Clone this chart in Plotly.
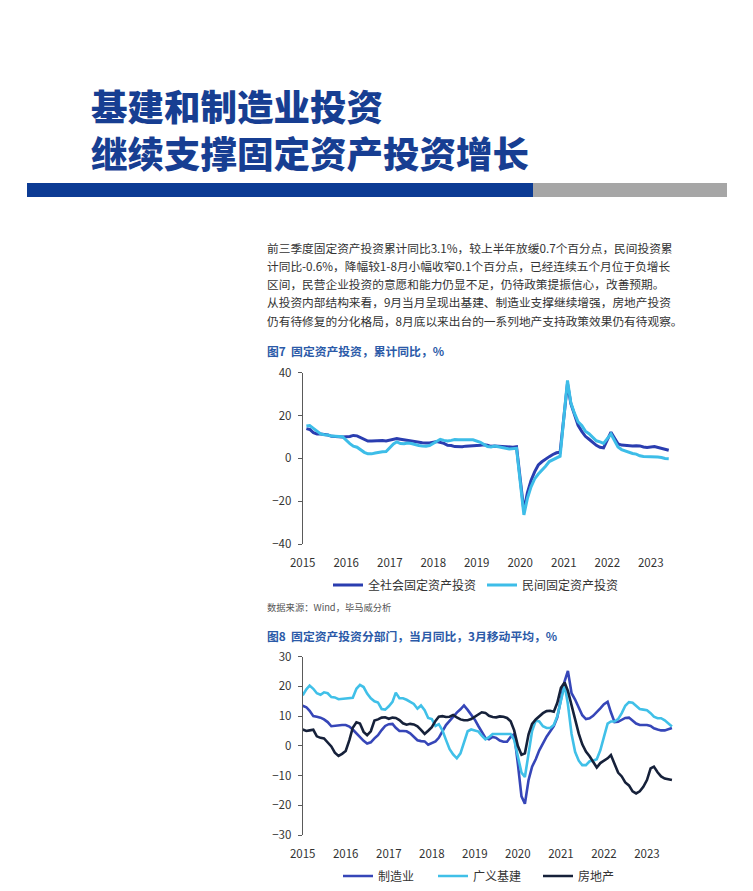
import plotly.graph_objects as go
import pandas as pd

# ---------------- data ----------------
years = ["2015", "2016", "2017", "2018", "2019", "2020", "2021", "2022", "2023"]

# Fig 7: cumulative YoY (Feb..Dec each year), %
fai_total = [13.9, 13.5, 12.0, 11.4, 11.4, 11.2, 10.9, 10.3, 10.2, 10.2, 10.0,
             10.2, 10.7, 10.5, 9.6, 9.0, 8.1, 8.1, 8.2, 8.3, 8.3, 8.1,
             8.9, 9.2, 8.9, 8.6, 8.6, 8.3, 7.8, 7.5, 7.3, 7.2, 7.2,
             7.9, 7.5, 7.0, 6.1, 6.0, 5.5, 5.3, 5.4, 5.7, 5.9, 5.9,
             6.1, 6.3, 6.1, 5.6, 5.8, 5.7, 5.5, 5.4, 5.2, 5.2, 5.4,
             -24.5, -16.1, -10.3, -6.3, -3.1, -1.6, -0.3, 0.8, 1.8, 2.6, 2.9,
             35.0, 25.6, 19.9, 15.4, 12.6, 10.3, 8.9, 7.3, 6.1, 5.2, 4.9,
             12.2, 9.3, 6.8, 6.2, 6.1, 5.7, 5.8, 5.9, 5.8, 5.3, 5.1,
             5.5, 5.1, 4.7, 4.0, 3.8]
fai_private = [15.1, 15.3, 14.0, 12.9, 11.4, 11.0, 10.9, 10.4, 10.2, 10.1, 10.1,
               6.9, 5.7, 5.2, 3.9, 2.8, 2.1, 2.1, 2.5, 2.9, 3.1, 3.2,
               6.7, 7.7, 6.9, 6.8, 7.2, 6.9, 6.4, 6.0, 5.8, 5.7, 6.0,
               8.1, 8.9, 8.4, 8.1, 8.4, 8.8, 8.7, 8.7, 8.7, 8.7, 8.7,
               7.5, 6.4, 5.5, 5.3, 5.7, 5.4, 4.9, 4.7, 4.4, 4.5, 4.7,
               -26.4, -18.8, -13.3, -9.6, -7.3, -5.7, -3.7, -1.5, -0.7, 0.2, 1.0,
               36.4, 26.0, 21.0, 17.0, 15.4, 12.7, 11.5, 9.8, 8.2, 7.7, 7.0,
               11.4, 8.4, 5.3, 4.1, 3.5, 2.7, 2.3, 2.0, 1.2, 0.9, 0.9,
               0.8, 0.6, 0.4, -0.1, -0.2]

# Fig 8: monthly YoY, 3-month moving average (Jan 2015 ..), %
manufacturing = [13.5, 13, 11.8, 10, 9.8, 9.5, 8.9, 8, 6.6, 6.8, 7, 7,
                 7, 6.5, 5.5, 4.2, 2.8, 1.7, 0.8, 1.2, 2.5, 3.6, 5.3, 6.7,
                 7.3, 7.4, 6.1, 5, 5, 4.9, 4.2, 2.9, 1.9, 1.6, 1.5, 0.4,
                 0.9, 1.5, 2.7, 4.9, 7, 8.4, 9.9, 11.2, 12.3, 13.6, 12.1, 10.6,
                 8.8, 6.6, 4.5, 2.7, 2.2, 3, 2.7, 1.8, 1.4, 1.4, 3, 4,
                 -6, -17, -19.5, -11.5, -7, -4.5, -1.5, 1, 3.1, 4.8, 6.6, 9.6,
                 16, 21.7, 25.2, 17.7, 15.6, 12.7, 10.3, 9, 9.3, 10.1, 11.2, 12.6,
                 14, 14.8, 11.3, 8, 8.1, 8.8, 9.4, 9.5, 8.6, 7.5, 7, 7,
                 7, 6.7, 5.9, 5.5, 5.2, 5.2, 5.7, 6]
infrastructure = [17, 19, 20.3, 19.2, 17.7, 17.2, 18, 17.7, 16.4, 16.3, 15.7, 15.8,
                  16, 16, 16.2, 19.2, 20.5, 19.8, 17.6, 16, 15, 14.6, 12.4, 12.2,
                  13.3, 14.8, 17.9, 16, 16, 15.5, 14.8, 14.1, 12.5, 13.6, 12, 9.4,
                  9, 6.7, 7.3, 5.2, 2, -1.1, -2.9, -4.2, -2.5, 1.5, 4.9, 5.5,
                  5.2, 4.8, 3.4, 2.2, 2.9, 4, 4, 4, 4, 4, 4, 2,
                  -3, -9, -10.5, -2, 5, 8.5, 8.2, 6.6, 6, 6, 7, 10,
                  15.5, 20.5, 14, 4, -2, -5, -6.5, -6.5, -5.2, -5, -4.5, -1.5,
                  3, 7.5, 8.2, 8.2, 9, 11, 13.5, 14.7, 14.5, 13.3, 12.4, 12.2,
                  12, 11, 9.8, 9.3, 9.3, 8.6, 7.5, 6.5]
real_estate = [5.5, 5, 5.2, 5.4, 3.2, 2.7, 2.5, 1.3, -0.2, -2.3, -3.4, -2.7,
               -1.7, 1.9, 6.1, 7.9, 7.5, 4.7, 3.6, 4.9, 8.5, 8.9, 9.5, 9.6,
               9.1, 9.5, 9.4, 8.7, 7.6, 7.1, 7.4, 7.2, 6.6, 5.4, 4, 5.1,
               6.3, 8.4, 9.8, 10, 9.7, 9.8, 10.4, 9.6, 8.9, 8.6, 8.6, 9,
               9.9, 10.6, 11.3, 11.1, 10.1, 9.7, 9.6, 9.9, 9.8, 9.4, 8.3, 5.2,
               0, -3, -2.5, 3.9, 7.4, 8.9, 10, 11, 11.7, 11.8, 11.5, 14.5,
               19.5, 21.3, 18.5, 13.5, 8.5, 4.1, 0.5, -1.9, -3.5, -5.2, -7.3, -5.8,
               -5.1, -4.2, -3.1, -6.1, -9, -10.3, -12.3, -13.3, -15.3, -16, -15.3, -13.8,
               -11.5, -7.6, -7, -8.9, -10.3, -11, -11.3, -11.5]

cum_dates = [f"{y}-{m:02d}-01" for y in range(2015, 2024) for m in range(2, 13)][:len(fai_total)]
mon_dates = pd.date_range("2015-01-01", periods=len(manufacturing), freq="MS")
year_ticks = [f"{y}-01-01" for y in years]

title_lines = ["基建和制造业投资", "继续支撑固定资产投资增长"]
para_lines = [
    "前三季度固定资产投资累计同比3.1%，较上半年放缓0.7个百分点，民间投资累",
    "计同比-0.6%，降幅较1-8月小幅收窄0.1个百分点，已经连续五个月位于负增长",
    "区间，民营企业投资的意愿和能力仍显不足，仍待政策提振信心，改善预期。",
    "从投资内部结构来看，9月当月呈现出基建、制造业支撑继续增强，房地产投资",
    "仍有待修复的分化格局，8月底以来出台的一系列地产支持政策效果仍有待观察。",
]

# ---------------- style ----------------
PAGE_OFF = 8           # the page body margin
W, H = 745, 883        # figure size so that it fills the 753x891 window
FONT = "Noto Sans CJK SC"
C_TOTAL = "#2a3db0"
C_PRIV = "#3dbde8"
C_MFG = "#3646b8"
C_INFRA = "#40c0e8"
C_RE = "#16213a"
AX = "#5a5a5a"


def X(p):
    return (p - PAGE_OFF) / W


def Y(p):
    return 1 - (p - PAGE_OFF) / H


fig = go.Figure()
fig.add_trace(go.Scatter(x=cum_dates, y=fai_total, mode="lines", name="全社会固定资产投资",
                         line=dict(color=C_TOTAL, width=3), xaxis="x", yaxis="y", legend="legend"))
fig.add_trace(go.Scatter(x=cum_dates, y=fai_private, mode="lines", name="民间固定资产投资",
                         line=dict(color=C_PRIV, width=3), xaxis="x", yaxis="y", legend="legend2"))
fig.add_trace(go.Scatter(x=mon_dates, y=manufacturing, mode="lines", name="制造业",
                         line=dict(color=C_MFG, width=2.6), xaxis="x2", yaxis="y2", legend="legend3"))
fig.add_trace(go.Scatter(x=mon_dates, y=infrastructure, mode="lines", name="广义基建",
                         line=dict(color=C_INFRA, width=2.6), xaxis="x2", yaxis="y2", legend="legend4"))
fig.add_trace(go.Scatter(x=mon_dates, y=real_estate, mode="lines", name="房地产",
                         line=dict(color=C_RE, width=2.6), xaxis="x2", yaxis="y2", legend="legend5"))

d1x = [X(302.7), X(671)]
d1y = [Y(544), Y(372.7)]
d2x = [X(302.7), X(673)]
d2y = [Y(835), Y(656.7)]
r1 = ["2015-01-01", "2023-06-20"]
r2 = ["2015-01-01", "2023-08-10"]

tickfont = dict(family=FONT, size=11.5, color="#333333")

label_axis = dict(showline=False, showgrid=False, zeroline=False, ticks="outside", ticklen=8,
                  tickcolor="rgba(0,0,0,0)", tickvals=year_ticks, ticktext=years, tickfont=tickfont)
zero_axis = dict(anchor="free", showline=True, linecolor="#8a8a8a", linewidth=1, showgrid=False,
                 zeroline=False, ticks="outside", ticklen=3, tickcolor="#8a8a8a",
                 tickvals=year_ticks, showticklabels=False)
y_axis = dict(showline=True, linecolor=AX, linewidth=1, showgrid=False, zeroline=False,
              ticks="outside", ticklen=4, tickcolor=AX, tickfont=tickfont, ticklabelstandoff=4)

fig.update_layout(
    width=W, height=H, margin=dict(l=0, r=0, t=0, b=0, autoexpand=False),
    paper_bgcolor="white", plot_bgcolor="white", showlegend=True,
    font=dict(family=FONT, color="#333333"),
    xaxis=dict(domain=d1x, anchor="y", range=r1, **label_axis),
    yaxis=dict(domain=d1y, anchor="x", range=[-40, 40], tickvals=[-40, -20, 0, 20, 40], **y_axis),
    xaxis3=dict(domain=d1x, overlaying="x", position=(d1y[0] + d1y[1]) / 2, range=r1, **zero_axis),
    xaxis2=dict(domain=d2x, anchor="y2", range=r2, **label_axis),
    yaxis2=dict(domain=d2y, anchor="x2", range=[-30, 30], tickvals=[-30, -20, -10, 0, 10, 20, 30], **y_axis),
    xaxis4=dict(domain=d2x, overlaying="x2", position=(d2y[0] + d2y[1]) / 2, range=r2, **zero_axis),
)

leg_common = dict(orientation="h", xanchor="left", yanchor="middle", bgcolor="rgba(0,0,0,0)",
                  borderwidth=0, font=dict(family=FONT, size=12, color="#333333"))
fig.update_layout(
    legend=dict(x=X(328), y=Y(585), **leg_common),
    legend2=dict(x=X(482), y=Y(585), **leg_common),
    legend3=dict(x=X(338), y=Y(876), **leg_common),
    legend4=dict(x=X(433), y=Y(876), **leg_common),
    legend5=dict(x=X(538), y=Y(876), **leg_common),
)

ann = []
ann.append(dict(text="<br>".join(title_lines), x=X(89), y=Y(129.5), xref="paper", yref="paper",
                showarrow=False, xanchor="left", yanchor="middle", align="left",
                font=dict(family=FONT, size=36.5, weight=900, color="#173e92")))
for line, yc in zip(para_lines, [247, 265.3, 283.7, 302, 320.3]):
    ann.append(dict(text=line, x=X(265), y=Y(yc), xref="paper", yref="paper", showarrow=False,
                    xanchor="left", yanchor="middle",
                    font=dict(family=FONT, size=11.7, color="#333333")))
ann.append(dict(text="图7  固定资产投资，累计同比，%", x=X(265), y=Y(350), xref="paper", yref="paper",
                showarrow=False, xanchor="left", yanchor="middle",
                font=dict(family=FONT, size=11.8, weight="bold", color="#2b5aa8")))
ann.append(dict(text="数据来源：Wind，毕马威分析", x=X(265), y=Y(606.5), xref="paper", yref="paper",
                showarrow=False, xanchor="left", yanchor="middle",
                font=dict(family=FONT, size=9.3, color="#555555")))
ann.append(dict(text="图8  固定资产投资分部门，当月同比，3月移动平均，%", x=X(265), y=Y(635), xref="paper",
                yref="paper", showarrow=False, xanchor="left", yanchor="middle",
                font=dict(family=FONT, size=11.8, weight="bold", color="#2b5aa8")))
fig.update_layout(annotations=ann)

fig.update_layout(shapes=[
    dict(type="rect", xref="paper", yref="paper", x0=X(27), x1=X(533), y0=Y(197), y1=Y(183),
         fillcolor="#0c3b94", line=dict(width=0), layer="below"),
    dict(type="rect", xref="paper", yref="paper", x0=X(533), x1=X(727), y0=Y(197), y1=Y(183),
         fillcolor="#a6a6a6", line=dict(width=0), layer="below"),
])

fig.write_html("out.html")
